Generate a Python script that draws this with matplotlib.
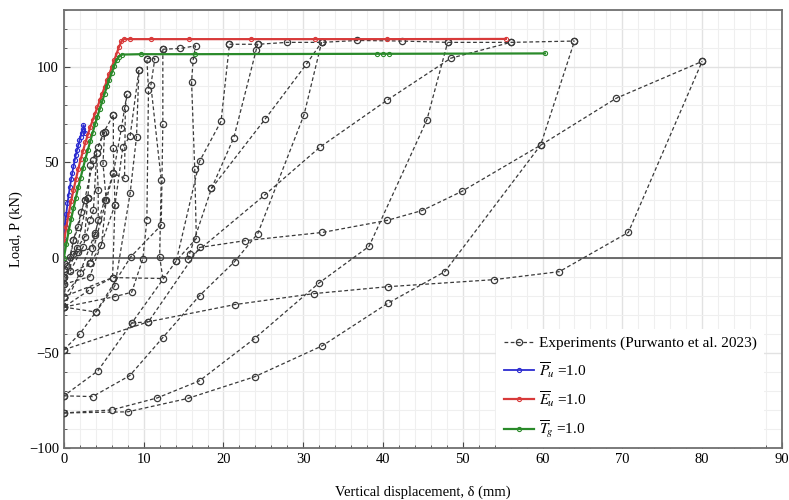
import numpy as np
import matplotlib
matplotlib.use("Agg")
import matplotlib.pyplot as plt
from matplotlib.ticker import MultipleLocator

plt.rcParams['font.family'] = ['Liberation Serif', 'DejaVu Serif']
plt.rcParams['mathtext.fontset'] = 'stix'
plt.rcParams['font.size'] = 10.5

# %% DATA

# experiment: test branches, each a list of (displacement mm, load kN)
exp_branches = [
    # small cycles
    [(0, -3), (0.75, 0.4), (1.2, 9.2), (1.8, 16.2), (2.2, 24), (2.6, 30.2), (3.0, 31.1)],
    [(3.0, 31.1), (2.6, 10.9), (1.2, 2.0), (0.4, -4.5), (0, -6)],
    [(0, -6), (1.8, 3.0), (3.5, 4.8), (3.9, 11.8), (4.3, 19.7), (4.3, 35.4), (4.1, 54.7)],
    [(4.1, 54.7), (3.7, 24.9), (3.3, 19.7), (2.4, 5.5), (0.8, -7), (0, -10)],
    [(0, -10), (3.3, -3.0), (4.7, 6.6), (5.3, 30.2), (4.9, 49.4), (5.1, 66)],
    [(5.1, 66), (4.3, 58.2), (3.3, 48.6), (3.0, 31.1), (1.6, 5.0), (0, -14)],
    [(0, -14), (3.25, -10), (6.4, 27.6), (6.2, 57.3), (6.2, 74.8)],
    [(6.2, 74.8), (4.9, 65.2), (3.7, 51.2), (2.6, 30.2), (1.2, 9.2), (0, -20.5)],
    [(0, -20.5), (3.25, -2.6), (6.2, 44.2), (7.6, 41.6), (7.7, 78.8), (7.9, 85.8)],
    [(7.9, 85.8), (7.2, 67.8), (6.2, 44.2), (5.1, 30.2), (3.9, 12.7), (2.0, -8), (0, -26)],
    [(0, -26), (4.0, -28.6), (6.4, -14.7), (8.3, 33.7), (9.1, 63.4), (9.4, 98.4)],
    [(9.4, 98.4), (8.3, 63.8), (7.4, 58.2), (6.4, 27.6), (6.1, -10.5), (3.2, -17), (0, -26)],
    [(0, -26), (6.4, -20.5), (8.5, -18.2), (9.9, -0.5), (10.4, 19.7), (10.6, 87.9), (10.4, 104.5)],
    [(10.4, 104.5), (11.4, 104.5), (10.9, 90.5), (12.2, 40.7), (12.0, 0.5), (12.4, -11), (6.1, -10.5), (0, -20.5)],
    [(0, -48.4), (2.0, -40), (4.0, -28.6), (8.4, 0.5), (12.2, 17), (12.4, 69.9), (12.4, 109.4)],
    [(12.4, 109.4), (14.6, 109.8), (16.5, 111.2), (16.2, 103.7), (16.0, 92.3), (16.4, 46.3), (16.6, 10),
     (14.1, -1.6), (8.5, -34.4), (4.25, -59.5), (0, -72.6)],
    [(0, -72.6), (3.6, -73), (8.25, -62), (12.4, -42), (17, -20), (21.4, -2.1), (24.3, 12.6), (30.1, 75),
     (32.3, 113)],
    [(14.1, -1.6), (17.0, 50.5), (19.7, 71.6), (20.75, 112)],
    [(15.75, 2.0), (18.5, 36.3), (21.3, 63), (24.1, 109), (24.3, 112)],
    [(20.75, 112), (24.3, 112), (28.0, 113), (32.3, 113), (36.8, 114), (42.4, 113.7), (48.1, 113),
     (56, 113), (64, 113.7)],
    [(18.5, 36.3), (25.2, 72.6), (30.4, 101.6), (32.3, 113)],
    [(8.5, -34.4), (10.6, -33.7), (17.0, 5.3), (22.75, 8.9), (32.4, 13.2), (40.5, 19.5), (44.9, 24.7),
     (49.9, 34.8), (59.75, 59), (69.25, 83.7), (80, 103)],
    [(0, -48.4), (10.6, -33.7), (21.4, -24.7), (31.4, -18.9), (40.6, -15.3), (53.9, -11.6),
     (62.1, -7.4), (70.75, 13.2), (80, 103)],
    [(0, -81.6), (8, -81), (15.5, -74), (23.9, -62.6), (32.4, -46.3), (40.6, -24), (47.75, -7.4),
     (59.75, 59), (64, 113.7)],
    [(0, -81.6), (6, -80), (11.7, -73.7), (17, -64.7), (23.9, -42.5), (32, -13.3), (38.25, 5.9),
     (45.5, 72.3), (48.1, 113)],
    [(15.5, -1.0), (25.1, 32.6), (32.1, 58), (40.5, 82.6), (48.5, 104.7), (56, 113)],
]

# model curves: normalised parameter = 1.0
pu_x = [0, 0.15, 0.3, 0.45, 0.6, 0.75, 0.9, 1.05, 1.2, 1.35, 1.5, 1.65, 1.8, 1.95, 2.1, 2.25, 2.4, 2.45, 2.7]
pu_y = [10, 17, 23, 28.5, 33, 37, 41, 44.5, 48, 51, 54, 56.5, 59, 61.5, 63.5, 65.5, 67.5, 69.5, 65.5]

eu_x = [0, 0.3, 0.6, 0.9, 1.2, 1.5, 1.8, 2.1, 2.4, 2.7, 3.0, 3.3, 3.6, 3.9, 4.2, 4.5, 4.8, 5.1, 5.4,
        5.7, 6.0, 6.3, 6.6, 6.9, 7.2, 7.5, 8.3, 10.9, 15.7, 23.5, 31.5, 40.5, 55.4]
eu_y = [8, 16, 23, 29.5, 35.5, 41, 46.5, 51.5, 56, 60.5, 64.5, 68.5, 72, 75.5, 79, 82.5, 86, 89.5, 93,
        96.5, 100, 103.5, 107, 110.5, 113.5, 114.7, 114.7, 114.7, 114.7, 114.7, 114.7, 114.7, 114.8]

tg_x = [0, 0.3, 0.6, 0.9, 1.2, 1.5, 1.8, 2.1, 2.4, 2.7, 3.0, 3.3, 3.6, 3.9, 4.2, 4.5, 4.8, 5.1, 5.4,
        5.7, 6.0, 6.3, 6.6, 6.9, 7.3, 9.7, 16.4, 39.2, 40.0, 40.8, 60.3]
tg_y = [0, 7, 14, 20, 26, 31.5, 37, 42, 47, 52, 56.5, 61, 65.5, 70, 74, 78, 82, 86, 90, 93.5,
        97, 100.5, 103.5, 105.5, 106.6, 106.8, 106.8, 107, 107, 107, 107.2]

x_ticks = [0, 10, 20, 30, 40, 50, 60, 70, 80, 90]
y_ticks = [-100, -50, 0, 50, 100]

# %% PLOT

fig = plt.figure(figsize=(7.89, 5.0), dpi=100)
ax = fig.add_axes([0.081, 0.104, 0.910, 0.876])

# grid drawn by hand so that the legend box can sit between grid and ticks
for gx in np.arange(0, 91, 2):
    ax.axvline(gx, color='#e2e2e2' if gx % 10 == 0 else '#efefef', lw=1.0 if gx % 10 == 0 else 0.8, zorder=0.5)
for gy in np.arange(-100, 131, 10):
    ax.axhline(gy, color='#e2e2e2' if gy % 50 == 0 else '#efefef', lw=1.0 if gy % 50 == 0 else 0.8, zorder=0.5)

exp_style = dict(color='#3a3a3a', linestyle=(0, (3, 2)), linewidth=0.9, marker='o', markersize=4.5,
                 markerfacecolor='none', markeredgecolor='#3a3a3a', markeredgewidth=0.9)
for i, br in enumerate(exp_branches):
    bx, by = zip(*br)
    ax.plot(bx, by, label='Experiments (Purwanto et al. 2023)' if i == 0 else None, zorder=3, **exp_style)

ax.plot(pu_x, pu_y, color='#2b2bd0', lw=1.3, marker='o', ms=3, mfc='none', mew=0.8,
        label=r'$\overline{P}_{\!u}$ =1.0', zorder=4)
ax.plot(eu_x, eu_y, color='#d83a3a', lw=1.6, marker='o', ms=3, mfc='none', mew=0.8,
        label=r'$\overline{E}_{\!u}$ =1.0', zorder=4)
ax.plot(tg_x, tg_y, color='#2a8a2a', lw=1.6, marker='o', ms=3, mfc='none', mew=0.8,
        label=r'$\overline{T}_{\!g}$ =1.0', zorder=4)

ax.axhline(0, color='#555555', lw=1.2, zorder=2)

ax.set_xlim(0, 90)
ax.set_ylim(-100, 130)
ax.set_xticks(x_ticks)
ax.set_yticks(y_ticks)
ax.xaxis.set_minor_locator(MultipleLocator(2))
ax.yaxis.set_minor_locator(MultipleLocator(10))
ax.tick_params(which='both', direction='in', colors='#444444', labelcolor='black')
ax.tick_params(which='major', length=4)
ax.tick_params(which='minor', length=2)
for s in ax.spines.values():
    s.set_color('#707070')
    s.set_linewidth(1.3)

ax.set_xlabel('Vertical displacement, δ (mm)')
ax.set_ylabel('Load, P (kN)')
ax.xaxis.set_label_coords(0.5, -0.085)

leg = ax.legend(loc='lower right', bbox_to_anchor=(0.986, -0.017), frameon=True, fancybox=False,
                edgecolor='none', framealpha=1.0, handlelength=2.0, handletextpad=0.3,
                labelspacing=0.62, borderpad=0.5, fontsize=11)
leg.set_zorder(2.4)

fig.savefig('out.png', dpi=100)
